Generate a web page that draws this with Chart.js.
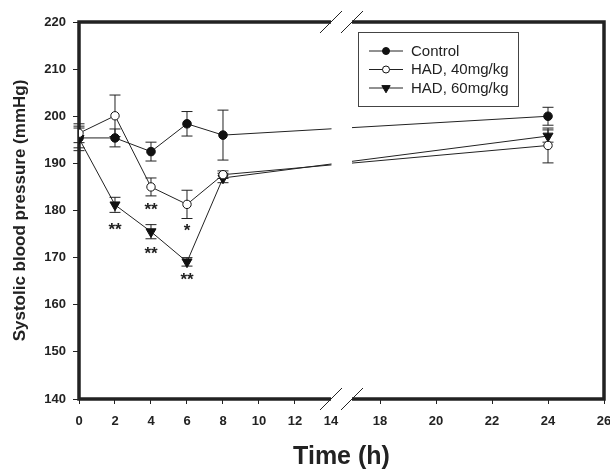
<!DOCTYPE html>
<html><head><meta charset="utf-8">
<script src="https://cdn.jsdelivr.net/npm/chart.js@4.4.1/dist/chart.umd.min.js"></script>
<style>html,body{margin:0;padding:0;background:#fff;} #wrap{width:610px;height:470px;}</style>
</head><body><div id="wrap"><canvas id="c" width="610" height="470"></canvas></div>
<script>
// ---- data ----
const times = [0, 2, 4, 6, 8, 24];
const controlMean = [195.4, 195.4, 192.5, 198.4, 196.0, 200.0];
const controlErr  = [2.1, 1.9, 2.0, 2.6, 5.3, 1.9];
const had40Mean   = [196.4, 200.1, 185.0, 181.3, 187.6, 193.8];
const had40Err    = [2.0, 4.4, 1.9, 3.0, 0.8, 3.7];
const had60Mean   = [195.3, 181.2, 175.5, 169.1, 186.9, 195.8];
const had60Err    = [2.6, 1.6, 1.5, 0.9, 1.0, 1.3];
const seriesLabels = ['Control', 'HAD, 40mg/kg', 'HAD, 60mg/kg'];
const xTickValues = [0, 2, 4, 6, 8, 10, 12, 14, 18, 20, 22, 24, 26];
const xTickLabels = ['0', '2', '4', '6', '8', '10', '12', '14', '18', '20', '22', '24', '26'];
const yTickValues = [140, 150, 160, 170, 180, 190, 200, 210, 220];
const yTickLabels = ['140', '150', '160', '170', '180', '190', '200', '210', '220'];
// significance marks: time, y value of the mark centre, text
const sigTimes  = [2, 4, 4, 6, 6];
const sigValues = [176.5, 180.8, 171.5, 176.4, 165.9];
const sigLabels = ['**', '**', '**', '*', '**'];

// ---- axis break: 0..14 | 17..26 ----
const BREAK_LEFT_END = 14, BREAK_RIGHT_START = 17, AXIS_END = 26;
const GAP = 1.1667, RIGHT_SCALE = 14 / 9;
function mapX(t) {
  return t <= BREAK_LEFT_END ? t : BREAK_LEFT_END + GAP + (t - BREAK_RIGHT_START) * RIGHT_SCALE;
}
const INK = '#222';
const FONT = "'Liberation Sans', Arial, Helvetica, sans-serif";
const errArrays = [controlErr, had40Err, had60Err];
const meanArrays = [controlMean, had40Mean, had60Mean];

function pts(arr) { return times.map((t, i) => ({x: mapX(t), y: arr[i]})); }

function drawMarker(ctx, style, x, y, r) {
  ctx.save();
  ctx.lineWidth = 1;
  ctx.strokeStyle = '#111';
  ctx.beginPath();
  if (style === 'tri') {
    ctx.moveTo(x - r * 0.866, y - r * 0.5);
    ctx.lineTo(x + r * 0.866, y - r * 0.5);
    ctx.lineTo(x, y + r);
    ctx.closePath();
    ctx.fillStyle = '#111';
  } else {
    ctx.arc(x, y, r, 0, Math.PI * 2);
    ctx.fillStyle = style === 'open' ? '#fff' : '#111';
  }
  ctx.fill(); ctx.stroke();
  ctx.restore();
}

const breakPlugin = {
  id: 'breakPlugin',
  beforeDatasetsDraw(chart) {
    const {ctx, chartArea: a, scales: {x, y}} = chart;
    const gL = x.getPixelForValue(mapX(BREAK_LEFT_END));
    const gR = x.getPixelForValue(mapX(BREAK_RIGHT_START));
    ctx.save();
    ctx.strokeStyle = INK; ctx.lineWidth = 3.5; ctx.lineJoin = 'miter';
    ctx.beginPath();
    ctx.moveTo(gL, a.top); ctx.lineTo(a.left, a.top); ctx.lineTo(a.left, a.bottom); ctx.lineTo(gL, a.bottom);
    ctx.stroke();
    ctx.beginPath();
    ctx.moveTo(gR, a.top); ctx.lineTo(a.right, a.top); ctx.lineTo(a.right, a.bottom); ctx.lineTo(gR, a.bottom);
    ctx.stroke();
    // error bars
    ctx.lineWidth = 1; ctx.strokeStyle = INK;
    meanArrays.forEach((m, i) => {
      const e = errArrays[i];
      times.forEach((t, j) => {
        const px = x.getPixelForValue(mapX(t));
        const hi = y.getPixelForValue(m[j] + e[j]);
        const lo = y.getPixelForValue(m[j] - e[j]);
        ctx.beginPath();
        ctx.moveTo(px, hi); ctx.lineTo(px, lo);
        ctx.moveTo(px - 5.5, hi); ctx.lineTo(px + 5.5, hi);
        ctx.moveTo(px - 5.5, lo); ctx.lineTo(px + 5.5, lo);
        ctx.stroke();
      });
    });
    ctx.restore();
  },
  afterDatasetsDraw(chart) {
    const {ctx, chartArea: a, scales: {x, y}} = chart;
    const gL = x.getPixelForValue(mapX(BREAK_LEFT_END));
    const gR = x.getPixelForValue(mapX(BREAK_RIGHT_START));
    ctx.save();
    ctx.fillStyle = '#fff';
    ctx.fillRect(gL + 0.5, a.top + 2, gR - gL - 0.5, a.bottom - a.top - 4);
    ctx.strokeStyle = INK; ctx.lineWidth = 1;
    [a.top, a.bottom].forEach(yy => {
      [gL, gR].forEach(xx => {
        ctx.beginPath();
        ctx.moveTo(xx - 11, yy + 11); ctx.lineTo(xx + 11, yy - 11);
        ctx.stroke();
      });
    });
    // significance stars
    ctx.fillStyle = INK;
    ctx.font = 'bold 17px ' + FONT;
    ctx.textAlign = 'center'; ctx.textBaseline = 'alphabetic';
    sigLabels.forEach((lab, k) => {
      const px = x.getPixelForValue(mapX(sigTimes[k]));
      const yc = y.getPixelForValue(sigValues[k]);
      const m = ctx.measureText(lab);
      const asc = m.actualBoundingBoxAscent || 12, desc = m.actualBoundingBoxDescent || -5;
      ctx.fillText(lab, px, yc + (asc - desc) / 2);
    });
    ctx.restore();
  },
  afterDraw(chart) {
    const {ctx} = chart;
    ctx.save();
    ctx.strokeStyle = '#444'; ctx.lineWidth = 1;
    ctx.strokeRect(358.5, 32.5, 160, 74);
    const rows = [51, 69.5, 88];
    const styles = ['filled', 'open', 'tri'];
    ctx.font = '15px ' + FONT;
    ctx.textAlign = 'left'; ctx.textBaseline = 'middle';
    rows.forEach((ry, i) => {
      ctx.strokeStyle = INK; ctx.lineWidth = 1;
      ctx.beginPath(); ctx.moveTo(369, ry); ctx.lineTo(403, ry); ctx.stroke();
      drawMarker(ctx, styles[i], 386, ry, styles[i] === 'tri' ? 4.8 : 3.5);
      ctx.fillStyle = INK;
      ctx.fillText(seriesLabels[i], 411, ry + 0.5);
    });
    ctx.restore();
  }
};

const tickFont = {family: FONT, size: 13, weight: 'bold'};

const chart = new Chart(document.getElementById('c'), {
  type: 'line',
  data: {
    datasets: [
      {label: seriesLabels[0], data: pts(controlMean), order: 2, borderColor: INK, borderWidth: 1,
       pointStyle: 'circle', pointRadius: 4.3, pointBackgroundColor: '#111', pointBorderColor: '#111', pointBorderWidth: 1},
      {label: seriesLabels[1], data: pts(had40Mean), order: 0, borderColor: INK, borderWidth: 1,
       pointStyle: 'circle', pointRadius: 4.2, pointBackgroundColor: '#fff', pointBorderColor: '#111', pointBorderWidth: 1},
      {label: seriesLabels[2], data: pts(had60Mean), order: 1, borderColor: INK, borderWidth: 1,
       pointStyle: 'triangle', pointRotation: 180, pointRadius: 5.8, pointBackgroundColor: '#111', pointBorderColor: '#111', pointBorderWidth: 1}
    ]
  },
  options: {
    responsive: false, animation: false, events: [],
    layout: {autoPadding: false, padding: {left: 0, top: 22, right: 6, bottom: 0}},
    plugins: {legend: {display: false}, tooltip: {enabled: false}},
    scales: {
      x: {
        type: 'linear', min: 0, max: mapX(AXIS_END),
        afterFit(s) { s.height = 71; s.paddingLeft = 0; s.paddingRight = 0; },
        afterBuildTicks(s) { s.ticks = xTickValues.map(v => ({value: mapX(v)})); },
        border: {display: false},
        grid: {drawOnChartArea: false, drawTicks: true, tickLength: 5, lineWidth: 1,
               tickColor: c => (c.tick && Math.abs(c.tick.value - mapX(BREAK_LEFT_END)) < 1e-6) ? 'rgba(0,0,0,0)' : INK},
        ticks: {color: INK, font: tickFont, padding: 10, maxRotation: 0, autoSkip: false,
                callback: (v, i) => xTickLabels[i]},
        title: {display: true, text: 'Time (h)', color: INK,
                font: {family: FONT, size: 25, weight: 'bold', lineHeight: 1}, padding: {top: 0, bottom: 0}}
      },
      y: {
        min: 140, max: 220,
        afterFit(s) { s.width = 79; s.paddingTop = 0; s.paddingBottom = 0; },
        afterBuildTicks(s) { s.ticks = yTickValues.map(v => ({value: v})); },
        border: {display: false},
        grid: {drawOnChartArea: false, drawTicks: true, tickLength: 6, lineWidth: 1, tickColor: INK},
        ticks: {color: INK, font: tickFont, padding: 7, autoSkip: false,
                callback: (v, i) => yTickLabels[i]},
        title: {display: true, text: 'Systolic blood pressure (mmHg)', color: INK,
                font: {family: FONT, size: 17, weight: 'bold', lineHeight: 1}, padding: {top: 11.5, bottom: 0}}
      }
    }
  },
  plugins: [breakPlugin]
});
</script>
</body></html>
